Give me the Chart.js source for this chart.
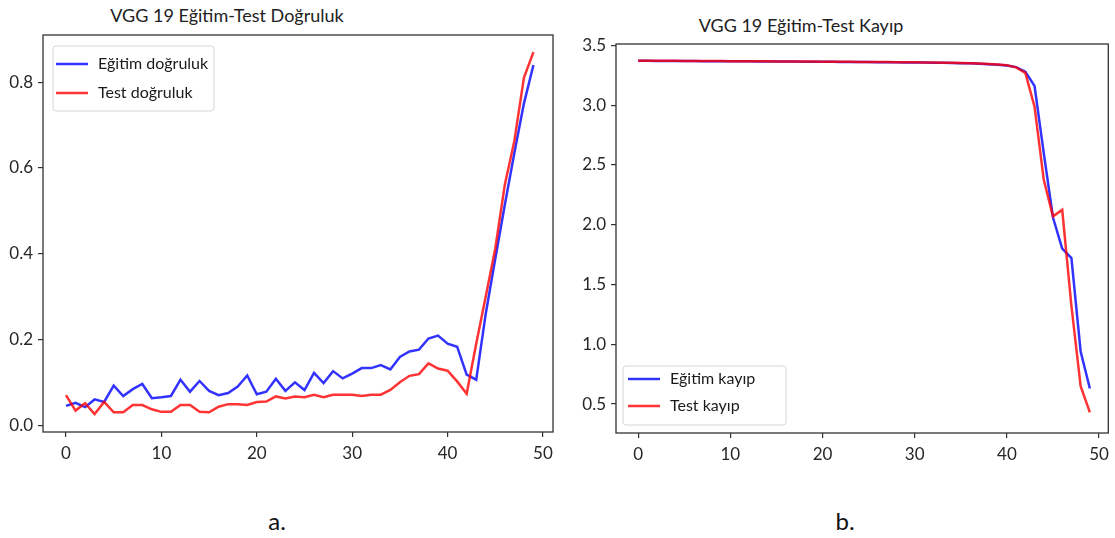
<!DOCTYPE html>
<html>
<head>
<meta charset="utf-8">
<script src="https://cdn.jsdelivr.net/npm/chart.js@4.4.1/dist/chart.umd.min.js"></script>
<style>
  html, body { margin: 0; padding: 0; background: #ffffff; }
  #page { position: relative; width: 1115px; height: 538px; overflow: hidden; font-family: Lato, "Open Sans", sans-serif; color: #222; }
  canvas { position: absolute; top: 0; }
  .title { position: absolute; font-size: 18px; white-space: nowrap; transform: translate(-50%, -50%); color: #222; }
  .caption { position: absolute; font-size: 24px; white-space: nowrap; transform: translate(-50%, -50%); color: #111; }
</style>
</head>
<body>
<div id="page">
  <div class="title" style="left:227px; top:15px;">VGG 19 Eğitim-Test Doğruluk</div>
  <div class="title" style="left:801px; top:25px;">VGG 19 Eğitim-Test Kayıp</div>
  <canvas id="accChart" width="560" height="480" style="left:0px;"></canvas>
  <canvas id="lossChart" width="555" height="480" style="left:560px;"></canvas>
  <div class="caption" style="left:277px; top:520px;">a.</div>
  <div class="caption" style="left:845px; top:520px;">b.</div>
</div>
<script>
// Epoch indices
const epochs = [0,1,2,3,4,5,6,7,8,9,10,11,12,13,14,15,16,17,18,19,20,21,22,23,24,25,26,27,28,29,30,31,32,33,34,35,36,37,38,39,40,41,42,43,44,45,46,47,48,49];

// Accuracy per epoch
const trainAccuracy = [0.045,0.052,0.042,0.060,0.054,0.092,0.068,0.084,0.096,0.063,0.065,0.068,0.106,0.078,0.103,0.080,0.070,0.075,0.090,0.116,0.072,0.078,0.108,0.080,0.100,0.082,0.122,0.098,0.126,0.109,0.120,0.133,0.133,0.140,0.130,0.159,0.172,0.176,0.202,0.209,0.190,0.183,0.118,0.106,0.260,0.388,0.514,0.635,0.750,0.840];
const testAccuracy = [0.070,0.034,0.051,0.026,0.054,0.030,0.030,0.047,0.047,0.037,0.031,0.031,0.047,0.047,0.031,0.030,0.043,0.049,0.049,0.047,0.054,0.055,0.067,0.062,0.067,0.065,0.071,0.065,0.071,0.071,0.071,0.068,0.071,0.071,0.082,0.100,0.115,0.119,0.144,0.132,0.127,0.102,0.073,0.190,0.300,0.412,0.561,0.663,0.810,0.870];

// Loss per epoch
const trainLoss = [3.370,3.370,3.369,3.369,3.369,3.368,3.368,3.367,3.367,3.367,3.366,3.366,3.366,3.365,3.365,3.364,3.364,3.364,3.363,3.363,3.362,3.362,3.361,3.361,3.360,3.360,3.359,3.359,3.358,3.357,3.357,3.356,3.355,3.354,3.353,3.351,3.349,3.346,3.342,3.338,3.332,3.318,3.280,3.160,2.598,2.060,1.800,1.720,0.940,0.630];
const testLoss = [3.371,3.371,3.370,3.370,3.370,3.369,3.369,3.368,3.368,3.368,3.367,3.367,3.367,3.366,3.366,3.365,3.365,3.365,3.364,3.364,3.363,3.363,3.362,3.362,3.361,3.361,3.360,3.360,3.359,3.358,3.358,3.357,3.356,3.355,3.354,3.352,3.350,3.347,3.343,3.339,3.333,3.316,3.270,2.987,2.375,2.070,2.124,1.320,0.650,0.430];

// Tick positions
const epochTicks = [0,10,20,30,40,50];
const accuracyTicks = [0.0,0.2,0.4,0.6,0.8];
const lossTicks = [0.5,1.0,1.5,2.0,2.5,3.0,3.5];

// Series labels
const accuracyLabels = ['Eğitim doğruluk', 'Test doğruluk'];
const lossLabels = ['Eğitim kayıp', 'Test kayıp'];

const BLUE = 'rgba(0,0,255,0.8)';
const RED = 'rgba(255,0,0,0.8)';
const FONT = 'Lato, "Open Sans", sans-serif';

Chart.defaults.font.family = FONT;
Chart.defaults.color = '#262626';

function points(values) {
  return values.map((v, i) => ({ x: epochs[i], y: v }));
}

// Box around the plotting area, drawn on all four sides
const framePlugin = {
  id: 'frame',
  afterDatasetsDraw(chart) {
    const { ctx, chartArea: a } = chart;
    ctx.save();
    ctx.strokeStyle = '#333';
    ctx.lineWidth = 1.3;
    ctx.strokeRect(a.left, a.top, a.right - a.left, a.bottom - a.top);
    ctx.restore();
  }
};

// Legend box placed inside the plotting area
const boxLegendPlugin = {
  id: 'boxLegend',
  afterDraw(chart, args, opts) {
    const { ctx } = chart;
    const b = opts.box;
    ctx.save();
    ctx.beginPath();
    if (ctx.roundRect) ctx.roundRect(b.x, b.y, b.w, b.h, 3); else ctx.rect(b.x, b.y, b.w, b.h);
    ctx.fillStyle = 'rgba(255,255,255,0.8)';
    ctx.fill();
    ctx.strokeStyle = '#d6d6d6';
    ctx.lineWidth = 1;
    ctx.stroke();
    ctx.font = opts.fontSize + 'px ' + FONT;
    ctx.textBaseline = 'middle';
    ctx.textAlign = 'left';
    chart.data.datasets.forEach((ds, i) => {
      const y = opts.rows[i];
      ctx.strokeStyle = ds.borderColor;
      ctx.lineWidth = 2.5;
      ctx.beginPath();
      ctx.moveTo(opts.sample[0], y);
      ctx.lineTo(opts.sample[1], y);
      ctx.stroke();
      ctx.fillStyle = '#1a1a1a';
      ctx.fillText(ds.label, opts.textX, y);
    });
    ctx.restore();
  }
};

function axisCommon(tickList, formatter, fixedSize, isX) {
  return {
    type: 'linear',
    border: { display: false },
    grid: { display: true, drawOnChartArea: false, drawTicks: true, tickLength: 5, color: '#333', lineWidth: 1.2 },
    ticks: {
      font: { size: 17 },
      color: '#262626',
      padding: isX ? 6 : 5,
      callback: formatter
    },
    afterBuildTicks(scale) { scale.ticks = tickList.map(v => ({ value: v })); },
    afterFit(scale) { if (isX) scale.height = fixedSize; else scale.width = fixedSize; }
  };
}

function makeChart(id, labels, seriesA, seriesB, xRange, yRange, yTicks, yFmt, yAxisWidth, padding, legend) {
  return new Chart(document.getElementById(id), {
    type: 'line',
    data: {
      datasets: [
        { label: labels[0], data: points(seriesA), borderColor: BLUE, borderWidth: 2.5, pointRadius: 0, tension: 0, fill: false, order: 1 },
        { label: labels[1], data: points(seriesB), borderColor: RED, borderWidth: 2.5, pointRadius: 0, tension: 0, fill: false, order: 0 }
      ]
    },
    options: {
      responsive: false,
      animation: false,
      devicePixelRatio: 1,
      layout: { padding },
      plugins: {
        legend: { display: false },
        tooltip: { enabled: false },
        boxLegend: legend
      },
      scales: {
        x: Object.assign(axisCommon(epochTicks, v => String(v), 30, true), { min: xRange[0], max: xRange[1] }),
        y: Object.assign(axisCommon(yTicks, yFmt, yAxisWidth, false), { min: yRange[0], max: yRange[1] })
      }
    },
    plugins: [framePlugin, boxLegendPlugin]
  });
}

const oneDecimal = v => Number(v).toFixed(1);

makeChart('accChart', accuracyLabels, trainAccuracy, testAccuracy,
  [-2.41, 51.05], [-0.016, 0.91], accuracyTicks, oneDecimal, 43,
  { left: 0, right: 7, top: 35, bottom: 18 },
  { box: { x: 53, y: 46, w: 161, h: 65 }, rows: [64, 93], sample: [56, 88], textX: 98, fontSize: 16 });

makeChart('lossChart', lossLabels, trainLoss, testLoss,
  [-2.4, 51.0], [0.258, 3.511], lossTicks, oneDecimal, 56,
  { left: 0, right: 3, top: 44, bottom: 17 },
  { box: { x: 63, y: 366, w: 163, h: 59 }, rows: [379, 406], sample: [68, 100], textX: 110, fontSize: 16 });
</script>
</body>
</html>
